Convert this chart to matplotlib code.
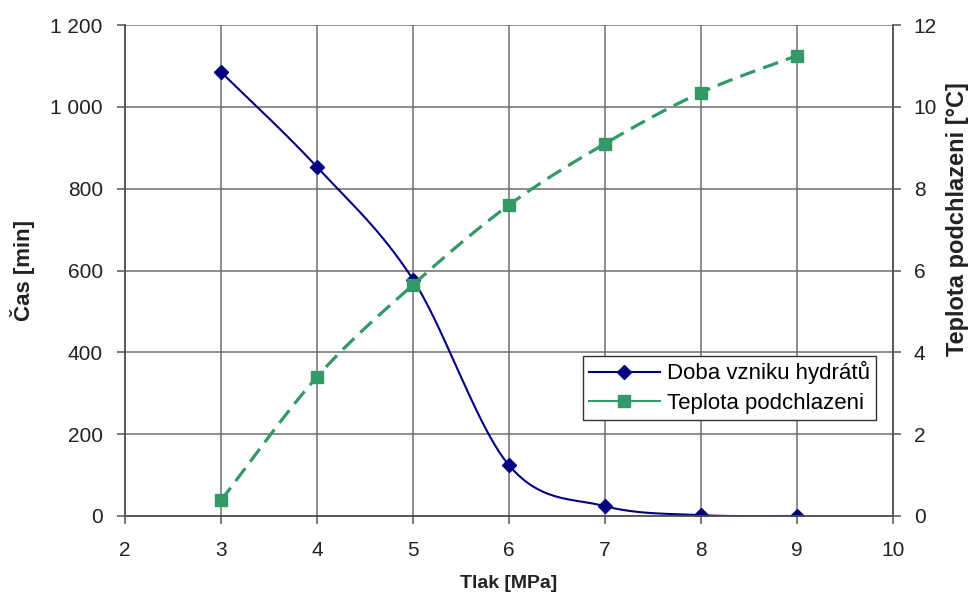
import matplotlib
matplotlib.use("Agg")
import matplotlib.pyplot as plt
from matplotlib.lines import Line2D
from matplotlib.ticker import FuncFormatter, MultipleLocator
import numpy as np

plt.rcParams['font.family'] = ['Liberation Sans', 'DejaVu Sans']

# data
tlak = [3, 4, 5, 6, 7, 8, 9]
doba = [1085, 853, 578, 124, 24, 2, 0]               # min
teplota = [0.38, 3.4, 5.65, 7.6, 9.1, 10.35, 11.25]  # degC

blue = '#000080'
green = '#339966'
grid_col = '#6e6e6e'
text_col = '#222222'


def smooth(xs, ys, n=40):
    # Excel-style smoothed line (uniform Catmull-Rom through the points)
    x = np.asarray(xs, float)
    y = np.asarray(ys, float)
    px = np.concatenate([[x[0]], x, [x[-1]]])
    py = np.concatenate([[y[0]], y, [y[-1]]])
    out_x, out_y = [], []
    t = np.linspace(0, 1, n)
    for i in range(1, len(px) - 2):
        b0x, b0y = px[i], py[i]
        b3x, b3y = px[i + 1], py[i + 1]
        b1x = b0x + (px[i + 1] - px[i - 1]) / 6
        b1y = b0y + (py[i + 1] - py[i - 1]) / 6
        b2x = b3x - (px[i + 2] - px[i]) / 6
        b2y = b3y - (py[i + 2] - py[i]) / 6
        cx = (1 - t) ** 3 * b0x + 3 * (1 - t) ** 2 * t * b1x + 3 * (1 - t) * t ** 2 * b2x + t ** 3 * b3x
        cy = (1 - t) ** 3 * b0y + 3 * (1 - t) ** 2 * t * b1y + 3 * (1 - t) * t ** 2 * b2y + t ** 3 * b3y
        out_x.extend(cx)
        out_y.extend(cy)
    return np.array(out_x), np.array(out_y)


fig = plt.figure(figsize=(9.69, 5.97), dpi=100)
ax = fig.add_axes([0.129, 0.1357, 0.7925, 0.8224])
ax2 = ax.twinx()

ax.set_xlim(2, 10)
ax.set_ylim(0, 1200)
ax2.set_ylim(0, 12)
ax.xaxis.set_major_locator(MultipleLocator(1))
ax.yaxis.set_major_locator(MultipleLocator(200))
ax2.yaxis.set_major_locator(MultipleLocator(2))
ax.yaxis.set_major_formatter(FuncFormatter(lambda v, p: f"{v:,.0f}".replace(",", " ")))

ax.grid(True, color=grid_col, linewidth=1.1)
ax.set_axisbelow(True)

for a in (ax, ax2):
    a.spines['top'].set_visible(False)
    for s in ('left', 'right', 'bottom'):
        a.spines[s].set_color('#555555')
        a.spines[s].set_linewidth(1.1)
    a.tick_params(direction='out', length=6, width=1.1, color='#555555',
                  labelsize=15, labelcolor=text_col)
ax.tick_params(axis='x', pad=12)
ax.tick_params(axis='y', pad=10)
ax2.tick_params(axis='y', pad=9)

sx, sy = smooth(tlak, doba)
ax.plot(sx, sy, color=blue, linewidth=1.5, zorder=3)
ax.plot(tlak, doba, linestyle='none', marker='D', markersize=7,
        color=blue, zorder=4)

gx, gy = smooth(tlak, teplota)
ax2.plot(gx, gy, color=green, linewidth=2.3, dashes=(5, 2.6), zorder=3)
ax2.plot(tlak, teplota, linestyle='none', marker='s', markersize=8.5,
         color=green, zorder=4)

ax.set_xlabel('Tlak [MPa]', fontsize=14, fontweight='bold', color=text_col)
ax.xaxis.set_label_coords(0.5, -0.12)
ax.set_ylabel('Čas [min]', fontsize=16, fontweight='bold', color=text_col)
ax.yaxis.set_label_coords(-0.117, 0.5)
ax2.set_ylabel('Teplota podchlazeni [°C]', fontsize=17, fontweight='bold',
               color=text_col)
ax2.yaxis.set_label_coords(1.069, 0.605)

handles = [
    Line2D([], [], color=blue, linewidth=1.5, marker='D', markersize=7),
    Line2D([], [], color=green, linewidth=1.5, marker='s', markersize=8.5),
]
leg = ax2.legend(handles, ['Doba vzniku hydrátů', 'Teplota podchlazeni'],
                 loc='lower right', bbox_to_anchor=(0.978, 0.196),
                 fontsize=16, frameon=True, fancybox=False, borderpad=0.25,
                 labelspacing=0.4, handlelength=3.2, handletextpad=0.35,
                 borderaxespad=0)
leg.get_frame().set_edgecolor('#333333')
leg.get_frame().set_linewidth(1.0)
leg.get_frame().set_alpha(1)

fig.savefig('out.png', dpi=100)
